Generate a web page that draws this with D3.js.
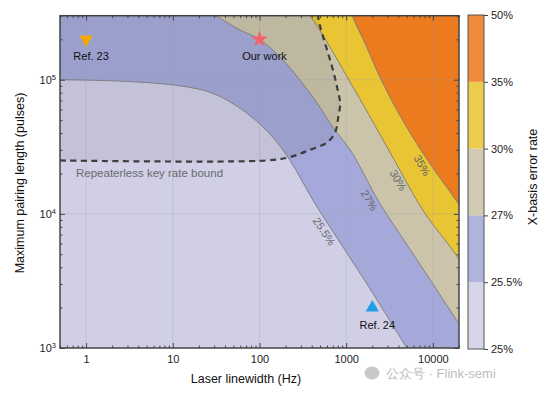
<!DOCTYPE html>
<html lang='en'>
<head>
<meta charset='utf-8'>
<title>X-basis error rate map</title>
<script type='text/javascript' src='https://cdn.jsdelivr.net/npm/d3@7'></script>
<style type='text/css'>
  body { margin: 0; background: #fff; }
  svg text { font-family: 'Liberation Sans', Arial, sans-serif; }
  .frame { fill: none; stroke: #444; stroke-width: 1.5; }
  .axis path { display: none; }
  .axis line { stroke: #444; stroke-width: 1; }
  .axis text { font-size: 11px; fill: #222; }
</style>
</head>
<body>
<script type='text/javascript'>
// colour levels (error rate) and band colours
var levels = ['25%', '25.5%', '27%', '30%', '35%', '50%'];
var bandColors = ['#d0cfe6', '#a5a9d9', '#cbc4aa', '#e9c534', '#ec7a1f'];

// contour boundaries: [linewidth Hz, pairing length]
var edge255 = [[0.5, 1e5], [3, 9.7e4], [20, 8.5e4], [35, 7.5e4], [60, 6.1e4], [100, 4.7e4],
  [160, 3.4e4], [225, 2.5e4], [415, 1.26e4], [1000, 5.2e3], [2000, 2.6e3], [5000, 1e3], [20000, 250]];
var edge27 = [[0.5, 5e5], [10, 4e5], [31, 3e5], [60, 2.34e5], [100, 2e5], [187, 1.4e5], [294, 9.9e4],
  [462, 6.7e4], [706, 4.4e4], [1110, 3e4], [2330, 1.26e4], [5000, 5.9e3], [10000, 3e3],
  [19500, 1.55e3], [40000, 760]];
var edge30 = [[200, 5e5], [383, 3e5], [1110, 9.6e4], [3000, 3.1e4], [7700, 1.06e4], [19500, 4.7e3], [40000, 2.2e3]];
var edge35 = [[900, 5e5], [1200, 2.9e5], [1570, 2e5], [2460, 1.04e5], [5900, 3.7e4], [10000, 2.2e4],
  [19500, 1.2e4], [40000, 5.8e3]];
var edges = [edge255, edge27, edge30, edge35];

// repeaterless key rate bound (dashed)
var boundX = [0.5, 120, 225, 380, 600, 745, 810, 850, 785, 690, 570, 490, 470];
var boundY = [2.5e4, 2.5e4, 2.65e4, 3e4, 3.4e4, 4.05e4, 5.25e4, 6.7e4, 8.8e4, 1.24e5, 1.87e5, 2.64e5, 3.1e5];

// contour labels
var labelText = ['25.5%', '27%', '30%', '35%'];
var labelAt = [[556, 7.4e3], [1840, 1.26e4], [3970, 1.78e4], [7500, 2.3e4]];
var labelAngle = [57, 60, 59, 60];

// reference points
var pointNames = ['Ref. 23', 'Our work', 'Ref. 24'];
var pointX = [1, 100, 2000];
var pointY = [2e5, 2e5, 2000];

var xTicks = [1, 10, 100, 1000, 10000];
var yTicks = [1e3, 1e4, 1e5];

var w = 553, h = 394;
var svg = d3.select('body').append('svg').attr('width', w).attr('height', h);

var xScale = d3.scaleLog().domain([0.5, 2e4]).range([60, 459]);
var yScale = d3.scaleLog().domain([1e3, 3e5]).range([348, 15.7]);
var pt = function(d) { return [xScale(d[0]), yScale(d[1])]; };

svg.append('clipPath').attr('id', 'plotclip')
  .append('rect').attr('x', 60).attr('y', 15.7).attr('width', 399).attr('height', 332.3);

var plot = svg.append('g').attr('clip-path', 'url(#plotclip)');

plot.append('rect').attr('x', 60).attr('y', 15.7).attr('width', 399).attr('height', 332.3)
  .attr('fill', bandColors[0]);

var lineGen = d3.line().curve(d3.curveMonotoneX);
var above = function(pts) {
  var p = pts.map(pt);
  return lineGen(p) + 'L' + p[p.length - 1][0] + ',-200L' + p[0][0] + ',-200Z';
};

edges.forEach(function(e, i) {
  plot.append('path').attr('d', above(e)).attr('fill', bandColors[i + 1]);
});

// shaded region inside the bound
var boundPts = boundX.map(function(v, i) { return pt([v, boundY[i]]); });
var boundLine = d3.line().curve(d3.curveCatmullRom.alpha(0.5));
plot.append('path')
  .attr('d', boundLine(boundPts) + 'L' + boundPts[boundPts.length - 1][0] + ',-200L' + boundPts[0][0] + ',-200Z')
  .attr('fill', '#000').attr('fill-opacity', 0.06);

// grid
plot.selectAll('.vgrid').data(xTicks).enter().append('line')
  .attr('x1', xScale).attr('x2', xScale).attr('y1', 15.7).attr('y2', 348)
  .attr('stroke', '#9a9aae').attr('stroke-opacity', 0.35).attr('stroke-width', 0.8);
plot.selectAll('.hgrid').data([1e4, 1e5]).enter().append('line')
  .attr('y1', yScale).attr('y2', yScale).attr('x1', 60).attr('x2', 459)
  .attr('stroke', '#9a9aae').attr('stroke-opacity', 0.35).attr('stroke-width', 0.8);

// contour lines
edges.forEach(function(e) {
  plot.append('path').attr('d', lineGen(e.map(pt)))
    .attr('fill', 'none').attr('stroke', '#7a7a7a').attr('stroke-width', 0.9);
});

// dashed bound
plot.append('path').attr('d', boundLine(boundPts))
  .attr('fill', 'none').attr('stroke', '#3d3d3d').attr('stroke-width', 2.2)
  .attr('stroke-dasharray', '6,4.5');

plot.append('text').attr('x', 76).attr('y', yScale(2.5e4) + 17)
  .attr('font-size', '11.5px').attr('fill', '#6a6a6a').text('Repeaterless key rate bound');

// contour labels
labelText.forEach(function(t, i) {
  var p = pt(labelAt[i]);
  plot.append('text').attr('transform', 'translate(' + p[0] + ',' + p[1] + ') rotate(' + labelAngle[i] + ')')
    .attr('text-anchor', 'middle').attr('dy', '0.35em')
    .attr('font-size', '11px').attr('fill', '#666')
    .text(t);
});

// markers
var sym = [d3.symbolTriangle, d3.symbolStar, d3.symbolTriangle];
var symColor = ['#f5a800', '#f0656a', '#1e9fe6'];
var symRot = [180, 0, 0];
pointNames.forEach(function(n, i) {
  var p = pt([pointX[i], pointY[i]]);
  plot.append('path').attr('d', d3.symbol().type(sym[i]).size(i === 1 ? 90 : 75)())
    .attr('transform', 'translate(' + p[0] + ',' + p[1] + ') rotate(' + symRot[i] + ')')
    .attr('fill', symColor[i]);
  plot.append('text').attr('x', p[0] + 5).attr('y', p[1] + 21)
    .attr('text-anchor', 'middle').attr('font-size', '11px').attr('fill', '#111').text(n);
});

// axes
var xMinor = [], yMinor = [];
[0.1, 1, 10, 100, 1000, 10000].forEach(function(d) {
  for (var k = 2; k < 10; k++) if (d * k >= 0.5 && d * k <= 2e4) xMinor.push(d * k);
});
[1e3, 1e4, 1e5].forEach(function(d) {
  for (var k = 2; k < 10; k++) if (d * k <= 3e5) yMinor.push(d * k);
});

svg.append('g').attr('class', 'axis').attr('transform', 'translate(0,348)')
  .call(d3.axisBottom(xScale).tickValues(xTicks).tickSize(-5).tickPadding(7).tickFormat(d3.format('d')));
svg.append('g').attr('class', 'axis').attr('transform', 'translate(0,348)')
  .call(d3.axisBottom(xScale).tickValues(xMinor).tickSize(-2.5).tickFormat(''));
svg.append('g').attr('class', 'axis').attr('transform', 'translate(0,15.7)')
  .call(d3.axisTop(xScale).tickValues(xTicks).tickSize(-5).tickFormat(''));
svg.append('g').attr('class', 'axis').attr('transform', 'translate(0,15.7)')
  .call(d3.axisTop(xScale).tickValues(xMinor).tickSize(-2.5).tickFormat(''));

var yAxis = svg.append('g').attr('class', 'axis').attr('transform', 'translate(60,0)')
  .call(d3.axisLeft(yScale).tickValues(yTicks).tickSize(-5).tickPadding(4).tickFormat(''));
yAxis.selectAll('text').each(function(d) {
  var t = d3.select(this);
  t.text('10');
  t.append('tspan').attr('dy', '-0.55em').attr('font-size', '7.5px').text(Math.round(Math.log10(d)));
});
svg.append('g').attr('class', 'axis').attr('transform', 'translate(60,0)')
  .call(d3.axisLeft(yScale).tickValues(yMinor).tickSize(-2.5).tickFormat(''));
svg.append('g').attr('class', 'axis').attr('transform', 'translate(459,0)')
  .call(d3.axisRight(yScale).tickValues(yTicks).tickSize(-5).tickFormat(''));
svg.append('g').attr('class', 'axis').attr('transform', 'translate(459,0)')
  .call(d3.axisRight(yScale).tickValues(yMinor).tickSize(-2.5).tickFormat(''));

svg.append('rect').attr('class', 'frame').attr('x', 60).attr('y', 15.7).attr('width', 399).attr('height', 332.3);

svg.append('text').attr('x', 246).attr('y', 383).attr('text-anchor', 'middle')
  .attr('font-size', '12.5px').attr('fill', '#111').text('Laser linewidth (Hz)');
svg.append('text').attr('transform', 'translate(24,183) rotate(-90)').attr('text-anchor', 'middle')
  .attr('font-size', '12.5px').attr('fill', '#111').text('Maximum pairing length (pulses)');

// colour bar
var cbScale = d3.scalePoint().domain(levels).range([349, 15]);
var cb = svg.append('g');
cb.selectAll('rect').data(bandColors).enter().append('rect')
  .attr('x', 468).attr('width', 16)
  .attr('y', function(d, i) { return cbScale(levels[i + 1]); })
  .attr('height', function(d, i) { return cbScale(levels[i]) - cbScale(levels[i + 1]); })
  .attr('fill', function(d) { return d; }).attr('fill-opacity', 0.88);
cb.append('rect').attr('x', 468).attr('y', 15).attr('width', 16).attr('height', 334)
  .attr('fill', 'none').attr('stroke', '#555').attr('stroke-width', 1);
cb.append('g').attr('class', 'axis').attr('transform', 'translate(484,0)')
  .call(d3.axisRight(cbScale).tickSize(4).tickPadding(3));
svg.append('text').attr('transform', 'translate(537,177) rotate(-90)').attr('text-anchor', 'middle')
  .attr('font-size', '12.5px').attr('fill', '#111').text('X-basis error rate');

// watermark
svg.append('text').attr('x', 386).attr('y', 378).attr('font-size', '13px')
  .attr('font-family', "'Noto Sans CJK SC', sans-serif").attr('fill', '#bdbdbd')
  .text('公众号 · Flink-semi');
svg.append('ellipse').attr('cx', 372).attr('cy', 373).attr('rx', 7.5).attr('ry', 6.5).attr('fill', '#c8c8c8');
</script>
</body>
</html>
